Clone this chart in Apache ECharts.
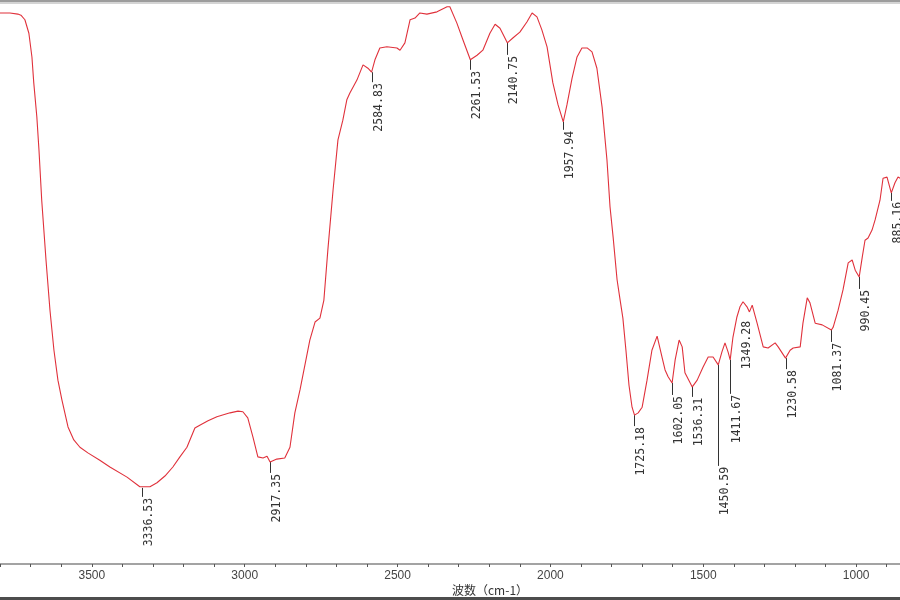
<!DOCTYPE html>
<html>
<head>
<meta charset="utf-8">
<title>IR spectrum</title>
<script src="https://cdn.jsdelivr.net/npm/echarts@6/dist/echarts.min.js"></script>
<style>
  html, body { margin: 0; padding: 0; background: #fff; }
  #chart { width: 900px; height: 600px; }
</style>
</head>
<body>
<div id="chart"></div>
<script>
// wavenumber (cm-1) and transmittance
var wave = [3801, 3768, 3742, 3732, 3719, 3706, 3696, 3690, 3680, 3673, 3664, 3650, 3637, 3624, 3611, 3598,
  3578, 3559, 3539, 3513, 3474, 3441, 3385, 3343, 3337, 3310, 3287, 3261, 3235, 3212, 3189, 3163,
  3147, 3120, 3091, 3048, 3022, 3006, 2990, 2973, 2957, 2940, 2927, 2917, 2895, 2869, 2852, 2836,
  2819, 2803, 2787, 2770, 2754, 2741, 2728, 2711, 2695, 2679, 2666, 2656, 2633, 2613, 2597, 2585,
  2574, 2558, 2535, 2502, 2492, 2476, 2459, 2443, 2427, 2404, 2371, 2338, 2329, 2306, 2286, 2262,
  2240, 2221, 2198, 2181, 2165, 2141, 2122, 2100, 2077, 2060, 2044, 2028, 2011, 1992, 1975, 1958,
  1946, 1929, 1913, 1897, 1880, 1864, 1848, 1831, 1815, 1805, 1795, 1782, 1772, 1763, 1753, 1743,
  1733, 1725, 1713, 1700, 1684, 1668, 1651, 1645, 1635, 1625, 1615, 1602, 1592, 1579, 1569, 1560,
  1536, 1520, 1501, 1484, 1468, 1451, 1439, 1429, 1419, 1412, 1403, 1390, 1380, 1370, 1357, 1349,
  1340, 1324, 1304, 1288, 1265, 1255, 1231, 1216, 1206, 1183, 1174, 1160, 1151, 1134, 1111, 1081,
  1075, 1059, 1043, 1026, 1013, 1003, 990, 980, 971, 961, 948, 938, 922, 912, 899, 885,
  873, 863, 856];
var trans = [97.7, 97.7, 97.5, 97.3, 96.5, 94.1, 89.9, 85.3, 79.3, 73.4, 64.5, 53.9, 45.0, 37.9, 32.6, 29.1,
  24.3, 22.0, 20.7, 19.7, 18.4, 17.2, 15.4, 13.7, 13.5, 13.7, 14.4, 15.6, 17.2, 19.0, 20.7, 24.1,
  24.6, 25.4, 26.1, 26.8, 27.1, 27.0, 25.9, 22.5, 19.0, 18.8, 19.1, 18.1, 18.6, 18.8, 20.7, 26.8,
  30.9, 35.3, 39.7, 42.9, 43.6, 46.8, 55.7, 66.3, 75.2, 78.7, 82.3, 83.5, 85.8, 88.5, 87.9, 87.2,
  89.4, 91.5, 91.7, 91.5, 91.1, 92.4, 96.5, 96.8, 97.7, 97.5, 97.9, 98.8, 98.8, 95.9, 92.9, 89.4,
  90.2, 91.1, 94.1, 95.7, 95.0, 92.4, 93.3, 94.3, 96.1, 97.7, 97.0, 94.7, 91.7, 85.3, 81.4, 78.4,
  81.4, 86.2, 89.9, 91.5, 91.5, 90.8, 87.9, 81.0, 71.6, 63.3, 58.0, 50.4, 46.8, 43.6, 37.9, 31.7,
  27.8, 26.4, 26.8, 27.8, 32.6, 37.9, 40.4, 40.1, 36.7, 34.4, 33.2, 32.1, 36.2, 39.7, 38.5, 33.9,
  31.4, 32.6, 34.9, 36.7, 36.7, 35.3, 37.6, 39.2, 37.6, 36.2, 40.2, 43.8, 45.6, 46.5, 45.6, 44.7,
  45.9, 42.7, 38.5, 38.3, 39.2, 38.5, 36.5, 37.9, 38.3, 38.5, 42.7, 47.2, 46.3, 42.7, 42.4, 41.5,
  42.0, 45.0, 48.6, 53.4, 53.9, 52.1, 50.9, 54.4, 57.4, 57.8, 59.2, 61.0, 64.5, 68.4, 68.6, 65.8,
  67.6, 68.6, 68.4];

// marked peaks
var peakWave = [3336.53, 2917.35, 2584.83, 2261.53, 2140.75, 1957.94, 1725.18, 1602.05,
  1536.31, 1450.59, 1411.67, 1349.28, 1230.58, 1081.37, 990.45, 885.16];
var peakTrans = [13.5, 18.1, 87.2, 89.4, 92.4, 78.4, 26.4, 32.1,
  31.4, 35.3, 36.2, 44.7, 36.5, 41.5, 50.9, 65.8];
// leader length under each peak and sideways nudge of its label (px)
var peakTickLen = [9, 11, 10, 10, 12, 8, 11, 12, 10, 101, 34, 0, 11, 12, 12, 8];
var peakLabelShift = [0, 0, 0, 0, 0, 0, 0, 0, 0, 0, 0, -9, 0, 0, 0, 0];

var spectrum = wave.map(function (w, i) { return [w, trans[i]]; });
var peaks = peakWave.map(function (w, i) { return [w, peakTrans[i]]; });

var myChart = echarts.init(document.getElementById('chart'));
var option = {
  backgroundColor: '#fff',
  animation: false,
  grid: { left: -61, right: -109, top: 0, bottom: 36, containLabel: false, outerBoundsMode: 'none' },
  xAxis: {
    type: 'value',
    inverse: true,
    min: 500,
    max: 4000,
    interval: 500,
    splitLine: { show: false },
    axisLine: { lineStyle: { color: '#a3a3a3', width: 2 } },
    axisTick: { length: 3, lineStyle: { color: '#555', width: 1 } },
    minorTick: { show: true, splitNumber: 5, length: 3, lineStyle: { color: '#555', width: 1 } },
    axisLabel: {
      color: '#444',
      fontSize: 12,
      fontFamily: 'Liberation Sans, Arial, sans-serif',
      margin: 6,
      formatter: function (v) { return String(v); }
    }
  },
  yAxis: {
    type: 'value',
    min: 0,
    max: 100,
    show: false
  },
  graphic: [
    { type: 'rect', left: 0, top: 0, shape: { width: 900, height: 2 }, style: { fill: '#9c9c9c' } },
    { type: 'rect', left: 0, top: 2, shape: { width: 900, height: 2 }, style: { fill: '#d4d4d4' } },
    { type: 'rect', left: 0, top: 597, shape: { width: 900, height: 3 }, style: { fill: '#4d4d4d' } },
    {
      type: 'text', left: 452, top: 584,
      style: { text: '波数（cm-1）', fill: '#333', font: '12px "Noto Sans CJK SC", sans-serif' }
    }
  ],
  series: [
    {
      name: 'spectrum',
      type: 'line',
      data: spectrum,
      symbol: 'none',
      smooth: false,
      lineStyle: { color: '#e0313b', width: 1.1 }
    },
    {
      name: 'peaks',
      type: 'custom',
      clip: false,
      data: peaks,
      encode: { x: 0, y: 1 },
      renderItem: function (params, api) {
        var i = params.dataIndex;
        var p = api.coord([api.value(0), api.value(1)]);
        var len = peakTickLen[i];
        var x = Math.round(p[0]) + 0.5;
        var children = [];
        if (len > 0) {
          children.push({
            type: 'line',
            shape: { x1: x, y1: p[1], x2: x, y2: p[1] + len },
            style: { stroke: '#333', lineWidth: 1 }
          });
        }
        children.push({
          type: 'text',
          x: x + 1 + peakLabelShift[i],
          y: p[1] + Math.max(len, 8) + 1,
          rotation: Math.PI / 2,
          style: {
            text: peakWave[i].toFixed(2),
            fill: '#333',
            font: '11.5px "DejaVu Sans Mono", monospace',
            align: 'right',
            verticalAlign: 'top'
          }
        });
        return { type: 'group', children: children };
      }
    }
  ]
};
myChart.setOption(option);
</script>
</body>
</html>
